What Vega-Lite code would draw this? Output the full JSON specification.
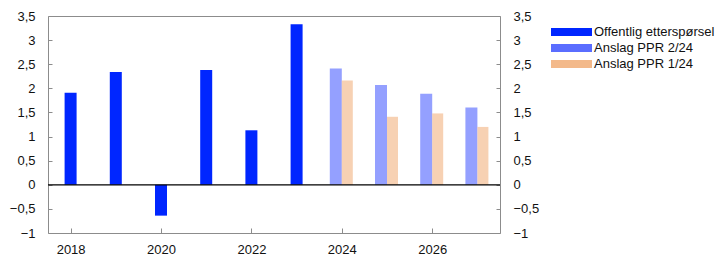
{
  "$schema": "https://vega.github.io/schema/vega-lite/v6.json",
  "width": 452,
  "height": 217,
  "autosize": {"type": "none"},
  "padding": {"left": 48, "top": 16, "right": 222, "bottom": 33},
  "config": {
    "font": "Liberation Sans",
    "view": {"stroke": "#8c8c8c", "strokeWidth": 1},
    "axis": {"labelFont": "Liberation Sans", "labelFontSize": 13, "labelColor": "#111", "grid": false, "domain": false, "tickColor": "#8c8c8c", "title": null},
    "legend": {"labelFont": "Liberation Sans", "labelFontSize": 13, "labelColor": "#111"}
  },
  "datasets": {
    "main": [
      {"year": 2018, "series": "Offentlig etterspørsel", "value": 1.91},
      {"year": 2019, "series": "Offentlig etterspørsel", "value": 2.34},
      {"year": 2020, "series": "Offentlig etterspørsel", "value": -0.64},
      {"year": 2021, "series": "Offentlig etterspørsel", "value": 2.38},
      {"year": 2022, "series": "Offentlig etterspørsel", "value": 1.13},
      {"year": 2023, "series": "Offentlig etterspørsel", "value": 3.33},
      {"year": 2024, "series": "Anslag PPR 2/24", "value": 2.41},
      {"year": 2025, "series": "Anslag PPR 2/24", "value": 2.07},
      {"year": 2026, "series": "Anslag PPR 2/24", "value": 1.89},
      {"year": 2027, "series": "Anslag PPR 2/24", "value": 1.60},
      {"year": 2024, "series": "Anslag PPR 1/24", "value": 2.16},
      {"year": 2025, "series": "Anslag PPR 1/24", "value": 1.41},
      {"year": 2026, "series": "Anslag PPR 1/24", "value": 1.48},
      {"year": 2027, "series": "Anslag PPR 1/24", "value": 1.20}
    ]
  },
  "data": {"name": "main"},
  "encoding": {
    "x": {"field": "year", "type": "quantitative", "scale": {"domain": [2017.5, 2027.5], "nice": false, "zero": false, "padding": 0},
      "axis": {"values": [2018, 2020, 2022, 2024, 2026], "format": "d", "tickSize": -5, "labelPadding": 15, "orient": "bottom"}},
    "y": {"field": "value", "type": "quantitative", "scale": {"domain": [-1, 3.5], "nice": false, "padding": 0}}
  },
  "layer": [
    {
      "transform": [{"filter": "datum.series === 'Offentlig etterspørsel'"}],
      "mark": {"type": "bar", "width": 12},
      "encoding": {
        "y": {"field": "value", "type": "quantitative", "axis": {"orient": "left", "values": [-1, -0.5, 0, 0.5, 1, 1.5, 2, 2.5, 3, 3.5], "labelExpr": "replace(format(datum.value, '~g'), '.', ',')", "tickSize": -4, "labelPadding": 17}},
        "color": {"field": "series", "type": "nominal",
          "scale": {"domain": ["Offentlig etterspørsel", "Anslag PPR 2/24", "Anslag PPR 1/24"], "range": ["#0026ff", "#5a6dff", "#f3b98a"]},
          "legend": {"title": null, "orient": "none", "legendX": 503, "legendY": 8, "symbolType": "M-1,-0.2L1,-0.2L1,0.2L-1,0.2Z", "symbolSize": 1681, "symbolStrokeWidth": 0, "symbolOpacity": 1, "labelOffset": 2, "rowPadding": 0, "clipHeight": 16,
            "encode": {"symbols": {"update": {"opacity": {"value": 1}, "fillOpacity": {"value": 1}}}}}}
      }
    },
    {
      "transform": [{"filter": "datum.series === 'Anslag PPR 2/24'"}],
      "mark": {"type": "bar", "width": 12, "xOffset": -6, "opacity": 0.65},
      "encoding": {
        "y": {"field": "value", "type": "quantitative", "axis": {"orient": "right", "values": [-1, -0.5, 0, 0.5, 1, 1.5, 2, 2.5, 3, 3.5], "labelExpr": "replace(format(datum.value, '~g'), '.', ',')", "tickSize": -4, "labelPadding": 17}},
        "color": {"field": "series", "type": "nominal"}
      }
    },
    {
      "transform": [{"filter": "datum.series === 'Anslag PPR 1/24'"}],
      "mark": {"type": "bar", "width": 11, "xOffset": 5.5, "opacity": 0.65},
      "encoding": {
        "y": {"field": "value", "type": "quantitative", "axis": null},
        "color": {"field": "series", "type": "nominal"}
      }
    },
    {
      "data": {"values": [{"zero": 0}]},
      "mark": {"type": "rule", "color": "#000", "strokeWidth": 1.2},
      "encoding": {"y": {"field": "zero", "type": "quantitative", "axis": null}, "x": null}
    }
  ],
  "resolve": {"axis": {"y": "independent"}}
}
